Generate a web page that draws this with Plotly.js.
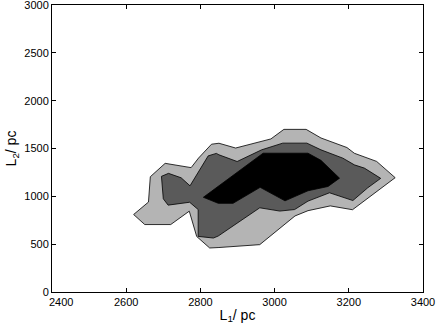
<!DOCTYPE html>
<html>
<head>
<meta charset="utf-8">
<script src="https://cdn.plot.ly/plotly-3.0.1.min.js"></script>
<style>
  body { margin: 0; background: #fff; }
  #chart { width: 436px; height: 327px; }
</style>
</head>
<body>
<div id="chart"></div>
<script>
// contour boundaries (L1, L2 in pc)
const outerX = [2620, 2660, 2665, 2705, 2775, 2795, 2830, 2850, 2895, 2990, 3025, 3085, 3125, 3195, 3215, 3240, 3275, 3325, 3210, 3150, 3090, 3055, 2960, 2850, 2825, 2790, 2770, 2720, 2650];
const outerY = [810, 940, 1205, 1345, 1300, 1400, 1545, 1555, 1505, 1600, 1700, 1700, 1610, 1510, 1450, 1415, 1365, 1195, 860, 900, 850, 795, 495, 465, 460, 580, 845, 705, 705];

const midX = [2695, 2714, 2748, 2772, 2821, 2843, 2850, 2899, 2965, 3022, 3087, 3125, 3184, 3215, 3242, 3286, 3251, 3211, 3148, 3090, 3054, 3014, 2960, 2848, 2835, 2794, 2794, 2771, 2713, 2700];
const midY = [1209, 1240, 1194, 1110, 1423, 1449, 1434, 1364, 1486, 1556, 1556, 1486, 1399, 1329, 1295, 1188, 1089, 956, 1037, 950, 862, 846, 880, 585, 564, 581, 862, 938, 908, 974];

const innerX = [2808, 2956, 2969, 3090, 3125, 3175, 3144, 3090, 3028, 2961, 2888, 2848];
const innerY = [990, 1416, 1451, 1451, 1376, 1190, 1103, 1058, 953, 1094, 927, 927];

const xTicks = [2400, 2600, 2800, 3000, 3200, 3400];
const yTicks = [0, 500, 1000, 1500, 2000, 2500, 3000];

function region(xs, ys, fillColor) {
  return {
    x: xs.concat([xs[0]]),
    y: ys.concat([ys[0]]),
    type: 'scatter',
    mode: 'lines',
    fill: 'toself',
    fillcolor: fillColor,
    line: { color: '#000', width: 0.8 },
    hoverinfo: 'skip',
    showlegend: false
  };
}

const data = [
  region(outerX, outerY, '#b4b4b4'),
  region(midX, midY, '#5a5a5a'),
  region(innerX, innerY, '#000000')
];

const font = 'Liberation Sans, Arial, sans-serif';

const axisStyle = {
  showline: true,
  linecolor: '#000',
  linewidth: 1,
  mirror: 'ticks',
  ticks: 'inside',
  ticklen: 4,
  tickcolor: '#000',
  showgrid: false,
  zeroline: false,
  ticklabeloverflow: 'allow',
  tickfont: { family: font, size: 11, color: '#000' }
};

const layout = {
  width: 436,
  height: 327,
  margin: { l: 52, r: 13, t: 5, b: 35 },
  paper_bgcolor: '#fff',
  plot_bgcolor: '#fff',
  xaxis: Object.assign({}, axisStyle, {
    range: [2400, 3400],
    tickvals: xTicks,
    // first label sits to the right of its tick, clear of the y "0"
    ticktext: xTicks.map((v, i) => i === 0 ? '\u2007\u2007\u2007' + v : String(v)),
    ticklabelstandoff: 0,
    title: { text: 'L<sub>1</sub>/ pc', font: { family: font, size: 14, color: '#000' }, standoff: 2 }
  }),
  yaxis: Object.assign({}, axisStyle, {
    range: [0, 3000],
    tickvals: yTicks,
    ticktext: yTicks.map(String),
    title: { text: 'L<sub>2</sub>/ pc', font: { family: font, size: 14, color: '#000' }, standoff: 4 }
  })
};

Plotly.newPlot('chart', data, layout, { staticPlot: true, displayModeBar: false });
</script>
</body>
</html>
